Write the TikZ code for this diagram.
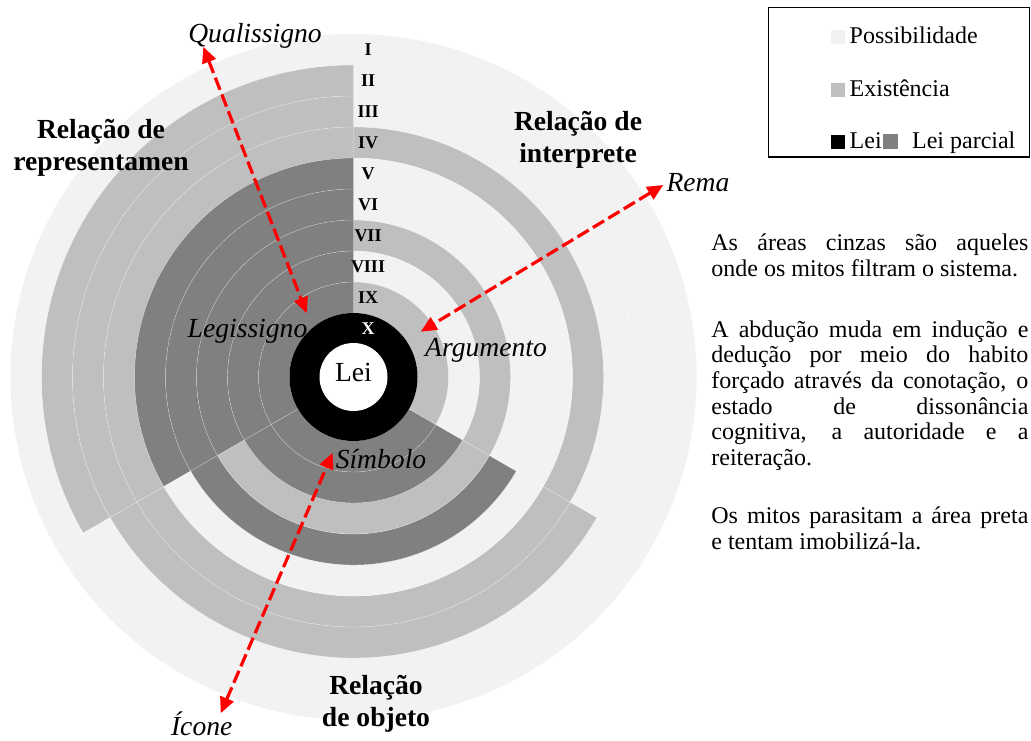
\documentclass[tikz,border=0pt]{standalone}
\usepackage{fontspec}
\setmainfont{Liberation Serif}
\usetikzlibrary{arrows.meta}
\definecolor{possib}{HTML}{F2F2F2}
\definecolor{exist}{HTML}{BFBFBF}
\definecolor{parcial}{HTML}{808080}
\hyphenpenalty=10000
% annular sector: colour, start angle, end angle, inner radius, outer radius
\newcommand{\anel}[5]{\fill[fill=#1] (#2:#5) arc[start angle=#2, end angle=#3, radius=#5] -- (#3:#4) arc[start angle=#3, end angle=#2, radius=#4] -- cycle;}
\tikzset{
  signo/.style={font=\fontsize{13.8}{16}\selectfont\itshape, inner sep=0pt, anchor=base},
  relacao/.style={font=\fontsize{13.8}{16}\selectfont\bfseries, align=center, inner sep=0pt},
  numeral/.style={font=\fontsize{9}{10}\selectfont\bfseries, inner sep=0pt},
  legsq/.style={minimum size=7pt, inner sep=0pt},
  legtxt/.style={font=\fontsize{12}{14}\selectfont, inner sep=0pt, anchor=base west},
  texto/.style={font=\fontsize{12}{12.85}\selectfont, text width=158.5pt, align=justify, inner sep=0pt, anchor=base west},
  mito/.style={red, line width=1.6pt, dash pattern=on 6.5pt off 2.5pt, {Triangle[length=8pt,width=7pt]}-{Triangle[length=8pt,width=7pt]}},
  sep/.style={white, line width=0.2pt, opacity=0.5}
}
\begin{document}
\begin{tikzpicture}[x=0.5pt,y=0.5pt]
  \useasboundingbox (0,0) rectangle (1031,740);
  % rings I..IX: left / bottom / right sector
  \begin{scope}[shift={(353.5,363)}]
    \foreach \n/\cl/\cb/\cr in {1/possib/possib/possib, 2/exist/possib/possib,
        3/exist/exist/possib, 4/exist/exist/exist, 5/parcial/possib/possib,
        6/parcial/parcial/possib, 7/parcial/exist/exist, 8/parcial/parcial/possib,
        9/parcial/parcial/exist}{
      \pgfmathsetmacro\ro{343-31*(\n-1)}
      \pgfmathsetmacro\ri{\ro-31}
      \anel{\cl}{90}{210}{\ri}{\ro}
      \anel{\cb}{210}{330}{\ri}{\ro}
      \anel{\cr}{-30}{90}{\ri}{\ro}
    }
    \fill[black] (0,0) circle[radius=64];
    \fill[white] (0,0) circle[radius=34];
    \foreach \r in {95,126,...,312}
      \draw[sep] (0,0) circle[radius=\r];
    \foreach \a in {210,330}
      \draw[sep] (\a:64) -- (\a:343);
    \foreach \n/\t/\c in {1/I/black, 2/II/black, 3/III/black, 4/IV/black, 5/V/black,
        6/VI/black, 7/VII/black, 8/VIII/black, 9/IX/black, 10/X/white}
      \node[numeral, text=\c] (num\n) at (14.5,{327.5-31*(\n-1)}) {\t};
  \end{scope}
  \node[font=\fontsize{13.8}{16}\selectfont, inner sep=0pt, anchor=base] (lei) at (353.5,358.3) {Lei};

  % labels
  \node[relacao] (repr) at (101,592.5) {Relação de\\representamen};
  \node[relacao] (interp) at (578,600) {Relação de\\interprete};
  \node[relacao] (objeto) at (376,36.2) {Relação\\de objeto};
  \node[signo] (quali) at (255,697) {Qualissigno};
  \node[signo] (rema) at (698,548.3) {Rema};
  \node[signo] (legi) at (247.5,403) {Legissigno};
  \node[signo] (argu) at (486,384) {Argumento};
  \node[signo] (simb) at (381,272) {Símbolo};
  \node[signo] (icone) at (201.7,5) {Ícone};

  % arrows
  \coordinate (qualiFora) at (203.3,693.3);
  \coordinate (qualiDentro) at (306.7,426.7);
  \coordinate (remaFora) at (663.3,555);
  \coordinate (remaDentro) at (420.7,408.3);
  \coordinate (iconeFora) at (220.7,26.7);
  \coordinate (iconeDentro) at (332.7,287.3);
  \draw[mito] (qualiFora) -- (qualiDentro);
  \draw[mito] (remaFora) -- (remaDentro);
  \draw[mito] (iconeFora) -- (iconeDentro);

  % legend
  \draw[line width=0.6pt] (768.3,583) rectangle (1029.5,732.5);
  \node[legsq, fill=possib] (qPoss) at (837.5,703) {};
  \node[legtxt] (tPoss) at (849.3,696) {Possibilidade};
  \node[legsq, fill=exist] (qExist) at (837.5,650.3) {};
  \node[legtxt] (tExist) at (849.3,643.3) {Existência};
  \node[legsq, fill=black] (qLei) at (837.5,598) {};
  \node[legtxt] (tLei) at (849.3,591) {Lei};
  \node[legsq, fill=parcial, minimum size=7.8pt] (qParc) at (890.5,598.5) {};
  \node[legtxt] (tParc) at (911.7,591) {Lei parcial};

  % text
  \node[texto] (p1) at (711,489.5) {As áreas cinzas são aqueles\linebreak onde os mitos filtram o sistema.};
  \node[texto] (p2) at (711,403) {A abdução muda em indução e\linebreak dedução por meio do habito\linebreak forçado através da conotação, o\linebreak estado de dissonância\linebreak cognitiva, a autoridade e a\linebreak reiteração.};
  \node[texto] (p3) at (711,216.3) {Os mitos parasitam a área preta\linebreak e tentam imobilizá-la.};
\end{tikzpicture}
\end{document}
